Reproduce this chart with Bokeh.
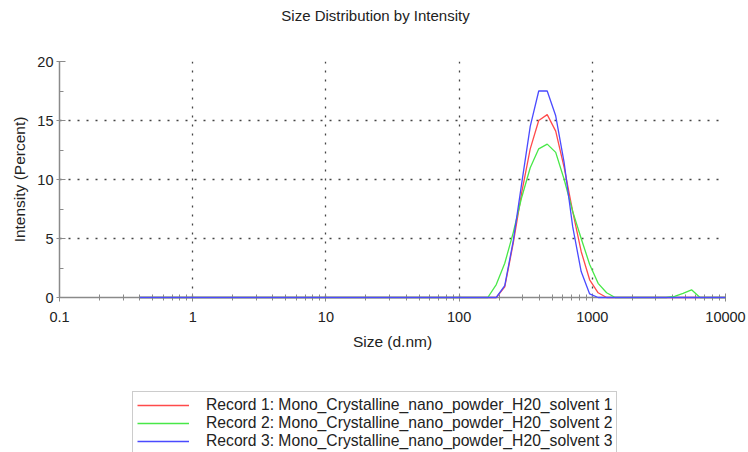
from bokeh.plotting import figure
from bokeh.layouts import column
from bokeh.models import (ColumnDataSource, FixedTicker, CustomJSTickFormatter, Legend,
                          LegendItem, Range1d, Label)
from bokeh.embed import file_html
from bokeh.resources import INLINE

# Size bins (d.nm)
sizes = [0.4, 0.4632, 0.5365, 0.6213, 0.7195, 0.8332, 0.9649, 1.117, 1.294, 1.499,
         1.736, 2.010, 2.328, 2.696, 3.122, 3.615, 4.187, 4.849, 5.615, 6.503,
         7.531, 8.721, 10.10, 11.70, 13.54, 15.69, 18.17, 21.04, 24.36, 28.21,
         32.67, 37.84, 43.82, 50.75, 58.77, 68.06, 78.82, 91.28, 105.7, 122.4,
         141.8, 164.2, 190.1, 220.2, 255.0, 295.3, 342.0, 396.1, 458.7, 531.2,
         615.1, 712.4, 825.0, 955.4, 1106, 1281, 1484, 1718, 1990, 2305,
         2669, 3091, 3580, 4145, 4801, 5560, 6439, 7456, 8635, 10000]

record1 = [0, 0, 0, 0, 0, 0, 0, 0, 0, 0,
           0, 0, 0, 0, 0, 0, 0, 0, 0, 0,
           0, 0, 0, 0, 0, 0, 0, 0, 0, 0,
           0, 0, 0, 0, 0, 0, 0, 0, 0, 0,
           0, 0, 0, 0.9, 4.6, 8.9, 12.6, 15.0, 15.5, 14.1,
           11.0, 7.3, 3.9, 1.5, 0.4, 0, 0, 0, 0, 0,
           0, 0, 0, 0, 0, 0, 0, 0, 0, 0]

record2 = [0, 0, 0, 0, 0, 0, 0, 0, 0, 0,
           0, 0, 0, 0, 0, 0, 0, 0, 0, 0,
           0, 0, 0, 0, 0, 0, 0, 0, 0, 0,
           0, 0, 0, 0, 0, 0, 0, 0, 0, 0,
           0, 0, 1.1, 2.9, 5.5, 8.5, 11.0, 12.6, 13.0, 12.3,
           10.0, 7.3, 5.0, 2.8, 1.2, 0.4, 0, 0, 0, 0,
           0, 0, 0, 0.1, 0.35, 0.65, 0, 0, 0, 0]

record3 = [0, 0, 0, 0, 0, 0, 0, 0, 0, 0,
           0, 0, 0, 0, 0, 0, 0, 0, 0, 0,
           0, 0, 0, 0, 0, 0, 0, 0, 0, 0,
           0, 0, 0, 0, 0, 0, 0, 0, 0, 0,
           0, 0, 0, 1.0, 4.8, 9.7, 14.5, 17.5, 17.5, 15.4,
           11.4, 6.0, 2.2, 0.3, 0, 0, 0, 0, 0, 0,
           0, 0, 0, 0, 0, 0, 0, 0, 0, 0]

title_text = "Size Distribution by Intensity"
x_label = "Size (d.nm)"
y_label = "Intensity (Percent)"
labels = ["Record 1: Mono_Crystalline_nano_powder_H20_solvent 1",
          "Record 2: Mono_Crystalline_nano_powder_H20_solvent 2",
          "Record 3: Mono_Crystalline_nano_powder_H20_solvent 3"]
colors = ["#ff4a4a", "#48e848", "#4a4aff"]

x_major = [0.1, 1, 10, 100, 1000, 10000]
x_minor = [0.2, 0.3, 0.4, 0.5, 0.6, 0.7, 0.8, 0.9,
           2, 3, 4, 5, 6, 7, 8, 9,
           20, 30, 40, 50, 60, 70, 80, 90,
           200, 300, 400, 500, 600, 700, 800, 900,
           2000, 3000, 4000, 5000, 6000, 7000, 8000, 9000]
y_major = [0, 5, 10, 15, 20]
y_minor = [2.5, 7.5, 12.5, 17.5]

FONT = "Liberation Sans"
W = 748

src = ColumnDataSource(dict(x=sizes, r1=record1, r2=record2, r3=record3))


def bare(fig):
    fig.outline_line_color = None
    fig.xgrid.visible = False
    fig.ygrid.visible = False
    fig.background_fill_color = "white"
    fig.border_fill_color = "white"
    return fig


# ---- title strip (frame is aligned with the main chart's frame) ----
pt = bare(figure(width=W, height=30, x_range=Range1d(0, 1), y_range=Range1d(0, 1),
                 x_axis_location=None, y_axis_location=None,
                 min_border=0, output_backend="svg", toolbar_location=None))
pt.add_layout(Label(x=316, y=15, x_units="screen", y_units="screen", text=title_text,
                    text_align="center", text_baseline="alphabetic",
                    text_font=FONT, text_font_size="15px", text_color="#222222"))

# ---- main chart ----
p = figure(width=W, height=361, x_axis_type="log",
           x_range=Range1d(0.1, 10000), y_range=Range1d(0, 20),
           output_backend="svg", toolbar_location=None,
           min_border_left=59, min_border_right=23,
           min_border_top=31, min_border_bottom=94)
p.outline_line_color = None
p.background_fill_color = "white"
p.border_fill_color = "white"

renderers = []
for col, c in zip(["r1", "r2", "r3"], colors):
    r = p.line("x", col, source=src, line_color=c, line_width=1.3, level="overlay")
    renderers.append(r)

p.xaxis.ticker = FixedTicker(ticks=x_major, minor_ticks=x_minor)
p.yaxis.ticker = FixedTicker(ticks=y_major, minor_ticks=y_minor)
p.xgrid.ticker = FixedTicker(ticks=x_major)
p.ygrid.ticker = FixedTicker(ticks=y_major)
p.xaxis.formatter = CustomJSTickFormatter(code="return tick.toString();")

for ax in (p.xaxis[0], p.yaxis[0]):
    ax.axis_line_color = "#8a8a8a"
    ax.axis_line_width = 1.5
    ax.major_tick_line_color = "#8a8a8a"
    ax.minor_tick_line_color = "#8a8a8a"
    ax.major_label_text_font = FONT
    ax.major_label_text_font_size = "14.5px"
    ax.major_label_text_color = "#222222"
    ax.axis_label_text_font = FONT
    ax.axis_label_text_font_size = "15.5px"
    ax.axis_label_text_font_style = "normal"
    ax.axis_label_text_color = "#222222"

p.xaxis.axis_label = x_label
p.yaxis.axis_label = y_label
p.xaxis.major_tick_in = 4
p.xaxis.major_tick_out = 4
p.xaxis.minor_tick_in = 3
p.xaxis.minor_tick_out = 3
p.xaxis.major_label_standoff = 10
p.xaxis.axis_label_standoff = 8
p.yaxis.major_tick_in = 6
p.yaxis.major_tick_out = 3
p.yaxis.minor_tick_in = 4
p.yaxis.minor_tick_out = 0
p.yaxis.major_label_standoff = 3
p.yaxis.axis_label_standoff = 6

for g in (p.xgrid[0], p.ygrid[0]):
    g.grid_line_color = "#444444"
    g.grid_line_dash = "2 7"
    g.grid_line_width = 1.3

# ---- legend strip: its lines use the same data but lie outside its view ----
pl = bare(figure(width=W, height=61, x_range=Range1d(0, 1), y_range=Range1d(1000, 1001),
                 x_axis_location=None, y_axis_location=None,
                 min_border=0, output_backend="svg", toolbar_location=None))
legend_renderers = [pl.line("x", col, source=src, line_color=c, line_width=1.3)
                    for col, c in zip(["r1", "r2", "r3"], colors)]
legend = Legend(items=[LegendItem(label=l, renderers=[r], index=0)
                       for l, r in zip(labels, legend_renderers)],
                location=(73, -3), orientation="vertical",
                padding=4, spacing=0, margin=0,
                glyph_width=52, glyph_height=18, label_height=18, label_standoff=17,
                label_text_font=FONT, label_text_font_size="15.7px",
                label_text_color="#222222",
                border_line_color="#9a9a9a", border_line_width=1,
                background_fill_color="white", background_fill_alpha=1)
pl.add_layout(legend, "center")

layout = column(pt, p, pl, spacing=0)
open("out.html", "w").write(file_html(layout, INLINE))
